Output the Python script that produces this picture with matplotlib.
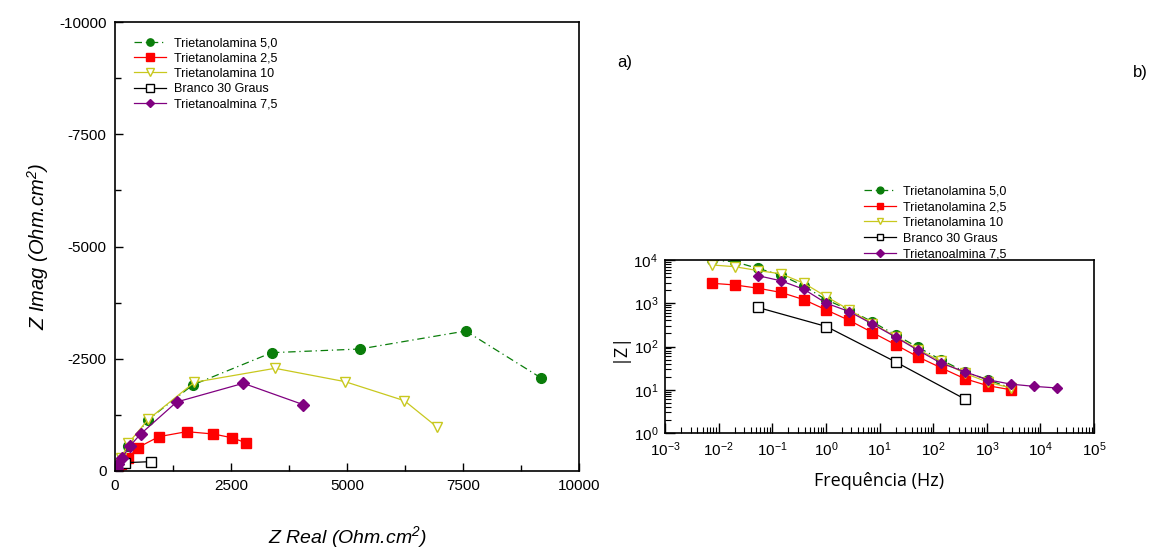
import matplotlib
matplotlib.use("Agg")
import matplotlib.pyplot as plt
from matplotlib.ticker import FixedLocator, FuncFormatter, LogLocator, NullFormatter

plt.rcParams["font.family"] = ["Liberation Sans", "DejaVu Sans"]
plt.rcParams["mathtext.default"] = "regular"
plt.rcParams["axes.unicode_minus"] = False

# --- dados: Nyquist (Z real, Z imag) ---
tea50_zr = [9174, 7558, 5280, 3377, 1674, 704, 290, 170, 80, 40, 22, 14, 11, 9]
tea50_zi = [-2078, -3118, -2717, -2635, -1915, -1136, -560, -300, -160, -80, -43, -22, -12, -6]
tea25_zr = [2816, 2514, 2119, 1545, 948, 489, 287, 130, 65, 33, 20, 13, 11, 10]
tea25_zi = [-631, -742, -824, -876, -765, -520, -297, -160, -88, -45, -25, -12, -6, -3]
tea10_zr = [6947, 6236, 4957, 3448, 1710, 718, 287, 140, 70, 35, 18, 12, 10, 9]
tea10_zi = [-973, -1566, -1990, -2287, -1975, -1151, -617, -300, -150, -75, -40, -20, -10, -5]
branco_zr = [776, 216, 30, 6]
branco_zi = [-208, -185, -32, -1]
tea75_zr = [4059, 2766, 1329, 553, 323, 144, 70, 35, 20, 15, 12, 12, 11, 11]
tea75_zi = [-1477, -1953, -1537, -824, -557, -282, -150, -73, -36, -21, -12, -6, -3, -1.5]

# --- dados: Bode |Z| x frequencia ---
freq = [0.0074, 0.020, 0.054, 0.145, 0.39, 1.02, 2.75, 7.4, 20, 53, 142, 390, 1050, 2800, 7500, 20000]
tea50_z = [10000, 9100, 6400, 4500, 2500, 1200, 700, 370, 185, 95, 49, 26, 17, 11]
tea25_z = [2900, 2650, 2230, 1780, 1210, 700, 400, 210, 110, 57, 32, 18, 12.4, 10]
tea10_z = [7700, 7000, 5700, 4800, 2900, 1420, 700, 340, 170, 85, 45, 24, 15, 11]
branco_freq = [0.054, 1.02, 20, 390]
branco_z = [800, 290, 44, 6.1]
tea75_z = [4350, 3300, 2100, 1000, 640, 330, 165, 81, 41, 26, 17, 13.5, 12, 11]

labels = ["Trietanolamina 5,0", "Trietanolamina 2,5", "Trietanolamina 10",
          "Branco 30 Graus", "Trietanoalmina 7,5"]

GREEN = "#0a7d0a"
RED = "#ff0000"
YELLOW = "#c8c81e"
PURPLE = "#800080"

styles = [
    dict(color=GREEN, ls=(0, (6, 3, 1, 3)), marker="o", mfc=GREEN, mec=GREEN),
    dict(color=RED, ls="-", marker="s", mfc=RED, mec=RED),
    dict(color=YELLOW, ls="-", marker="v", mfc="white", mec=YELLOW),
    dict(color="black", ls="-", marker="s", mfc="white", mec="black"),
    dict(color=PURPLE, ls="-", marker="D", mfc=PURPLE, mec=PURPLE),
]

fig = plt.figure(figsize=(11.59, 5.49), dpi=100)

# --- a) Nyquist ---
ax1 = fig.add_axes([0.0992, 0.1421, 0.4004, 0.8178])
nyq = [(tea50_zr, tea50_zi), (tea25_zr, tea25_zi), (tea10_zr, tea10_zi),
       (branco_zr, branco_zi), (tea75_zr, tea75_zi)]
for (zr, zi), st, lab in zip(nyq, styles, labels):
    ms = 6 if st["marker"] == "D" else 7
    ax1.plot(zr, zi, lw=0.9, ms=ms, mew=1.0, label=lab, **st)

ax1.set_xlim(0, 10000)
ax1.set_ylim(0, -10000)
ax1.xaxis.set_major_locator(FixedLocator([0, 2500, 5000, 7500, 10000]))
ax1.xaxis.set_minor_locator(FixedLocator([1250, 3750, 6250, 8750]))
ax1.yaxis.set_major_locator(FixedLocator([0, -2500, -5000, -7500, -10000]))
ax1.yaxis.set_minor_locator(FixedLocator([-1250, -3750, -6250, -8750]))
ax1.yaxis.set_major_formatter(FuncFormatter(lambda v, p: "%d" % v))
ax1.tick_params(which="both", direction="in", top=False, right=False,
                labelsize=11, pad=6)
ax1.tick_params(which="major", length=6, width=1)
ax1.tick_params(which="minor", length=4, width=1)
for sp in ax1.spines.values():
    sp.set_linewidth(1.2)
ax1.set_xlabel("Z Real (Ohm.cm$^2$)", fontsize=14, style="italic", labelpad=22)
ax1.set_ylabel("Z Imag (Ohm.cm$^2$)", fontsize=14.5, style="italic", labelpad=6)
ax1.legend(loc="upper left", bbox_to_anchor=(128 / 1159, 1 - 31 / 549),
           bbox_transform=fig.transFigure, frameon=False,
           fontsize=9, handlelength=2.5, handletextpad=0.7, labelspacing=0.26,
           borderpad=0, markerscale=0.75)

fig.text(625 / 1159, 1 - 63 / 549, "a)", fontsize=12, ha="center", va="center")
fig.text(1140 / 1159, 1 - 72 / 549, "b)", fontsize=12, ha="center", va="center")

# --- b) Bode ---
ax2 = fig.add_axes([0.5738, 0.2113, 0.3701, 0.3151])
bode = [(freq[:len(tea50_z)], tea50_z), (freq[:len(tea25_z)], tea25_z),
        (freq[:len(tea10_z)], tea10_z), (branco_freq, branco_z),
        (freq[2:2 + len(tea75_z)], tea75_z)]
for (f, z), st, lab in zip(bode, styles, labels):
    ms = 5.5 if st["marker"] == "D" else 7
    ax2.plot(f, z, lw=0.9, ms=ms, mew=1.0, label=lab, **st)

ax2.set_xscale("log")
ax2.set_yscale("log")
ax2.set_xlim(1e-3, 1e5)
ax2.set_ylim(1, 1e4)
ax2.xaxis.set_major_locator(LogLocator(base=10, numticks=20))
ax2.xaxis.set_minor_locator(LogLocator(base=10, subs=range(2, 10), numticks=20))
ax2.yaxis.set_major_locator(LogLocator(base=10, numticks=20))
ax2.yaxis.set_minor_locator(LogLocator(base=10, subs=range(2, 10), numticks=20))
ax2.xaxis.set_minor_formatter(NullFormatter())
ax2.yaxis.set_minor_formatter(NullFormatter())
ax2.tick_params(which="both", direction="in", top=False, right=False,
                labelsize=11, pad=5)
ax2.tick_params(which="major", length=7, width=1)
ax2.tick_params(which="minor", length=4, width=0.8)
for sp in ax2.spines.values():
    sp.set_linewidth(1.2)
ax2.set_xlabel("Frequência (Hz)", fontsize=13, family=["Open Sans", "DejaVu Sans"],
               labelpad=10)
ax2.set_ylabel("|Z|", fontsize=13, family=["Open Sans", "DejaVu Sans"], labelpad=4)
ax2.legend(loc="upper left", bbox_to_anchor=(858 / 1159, 1 - 179 / 549),
           bbox_transform=fig.transFigure, frameon=False, fontsize=9,
           handlelength=2.5, handletextpad=0.6, labelspacing=0.3, borderpad=0,
           markerscale=0.7)

fig.savefig("out.png", dpi=100)
